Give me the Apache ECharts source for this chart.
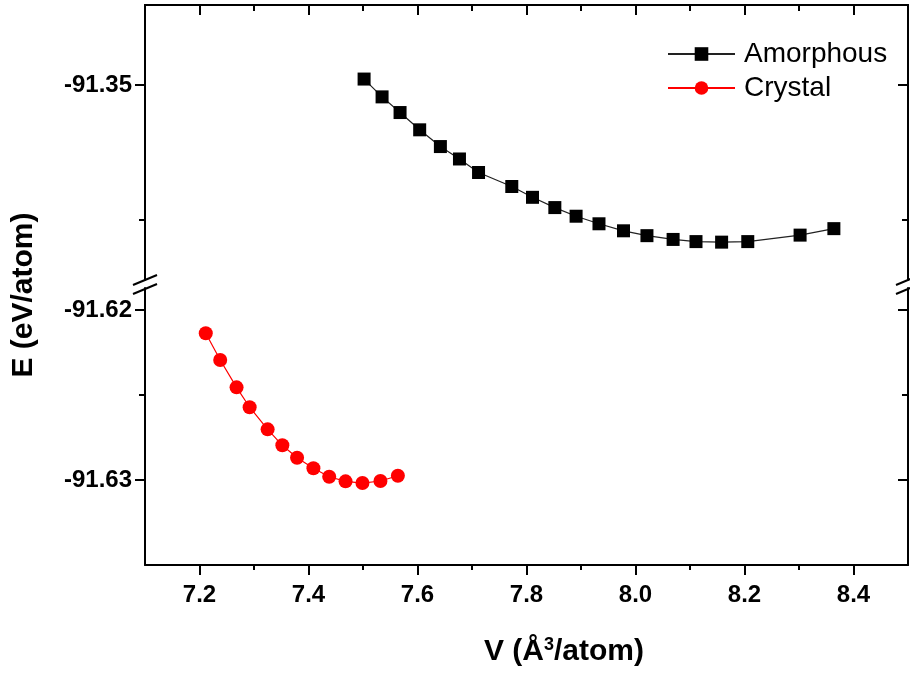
<!DOCTYPE html>
<html>
<head>
<meta charset="utf-8">
<title>E-V</title>
<style>
    html, body { margin: 0; padding: 0; background: #fff; }
    #main { width: 910px; height: 673px; }
</style>
<script src="https://cdn.jsdelivr.net/npm/echarts@6/dist/echarts.min.js"></script>
</head>
<body>
<div id="main"></div>
<script>
// 数据（从图上读出来的）
var amorphousV = [7.502, 7.535, 7.568, 7.604, 7.642, 7.677, 7.712, 7.773, 7.811, 7.852,
    7.891, 7.933, 7.978, 8.021, 8.069, 8.111, 8.158, 8.206, 8.302, 8.364];
var amorphousE = [-91.3489, -91.3522, -91.3551, -91.3583, -91.3614, -91.3637, -91.3662, -91.3688, -91.3708, -91.3727,
    -91.3743, -91.3757, -91.3770, -91.3779, -91.3786, -91.3790, -91.3791, -91.3790, -91.3778, -91.3766];

var crystalV = [7.2115, 7.238, 7.268, 7.292, 7.325, 7.352, 7.379, 7.409, 7.438, 7.468, 7.499, 7.532, 7.564];
var crystalE = [-91.62137, -91.62294, -91.62455, -91.62572, -91.62702, -91.62796, -91.62869,
    -91.62931, -91.62981, -91.63008, -91.63018, -91.63006, -91.62975];

// 刻度
var xMajor = [7.2, 7.4, 7.6, 7.8, 8.0, 8.2, 8.4];
var xMinor = [7.3, 7.5, 7.7, 7.9, 8.1, 8.3];
var yTopMajor = [-91.35];
var yTopMinor = [-91.375];
var yBotMajor = [-91.62, -91.63];
var yBotMinor = [-91.625];

(function() {
    var myChart = echarts.init(document.getElementById('main'));

    var FONT = "'Liberation Sans', Arial, Helvetica, sans-serif";
    var L = 145, R = 908;            // 左右边框
    var TOP = 5, BREAK1 = 280;       // 上半部分
    var BREAK2 = 288, BOTTOM = 565;  // 下半部分

    // 上半部分 y 范围: -91.35 在 y=85，5400 px/单位
    var topMax = -91.35 + (85 - TOP) / 5400;
    var topMin = -91.35 - (BREAK1 - 85) / 5400;
    // 下半部分: -91.62 在 y=310，17000 px/单位
    var botMax = -91.62 + (310 - BREAK2) / 17000;
    var botMin = -91.63 - (BOTTOM - 480) / 17000;

    function zip(xs, ys) {
        var out = [];
        for (var i = 0; i < xs.length; i++) out.push([xs[i], ys[i]]);
        return out;
    }

    function xAx(grid, pos, ticks, len, inside, labels) {
        return {
            type: 'value', gridIndex: grid, position: pos,
            min: 7.1, max: 8.5,
            axisLine: { show: !!labels || pos === 'top', onZero: false, lineStyle: { color: '#000', width: 2 } },
            axisTick: { show: true, inside: inside, length: len, customValues: ticks, lineStyle: { color: '#000', width: 2 } },
            axisLabel: labels ? {
                show: true, customValues: labels, margin: 18,
                color: '#000', fontSize: 24, fontWeight: 'bold', fontFamily: FONT,
                formatter: function(v) { return Number(v).toFixed(1); }
            } : { show: false },
            splitLine: { show: false }
        };
    }

    function yAx(grid, pos, mn, mx, ticks, len, inside, labels, line) {
        return {
            type: 'value', gridIndex: grid, position: pos,
            min: mn, max: mx, scale: true,
            axisLine: { show: line, onZero: false, lineStyle: { color: '#000', width: 2 } },
            axisTick: { show: true, inside: inside, length: len, customValues: ticks, lineStyle: { color: '#000', width: 2 } },
            axisLabel: labels ? {
                show: true, customValues: labels, margin: 13,
                color: '#000', fontSize: 24, fontWeight: 'bold', fontFamily: FONT,
                formatter: function(v) { return Number(v).toFixed(2); }
            } : { show: false },
            splitLine: { show: false }
        };
    }

    function brk(x, y) {
        return {
            type: 'line', z: 100,
            shape: { x1: x - 12, y1: y + 5, x2: x + 12, y2: y - 5 },
            style: { stroke: '#000', lineWidth: 2 }
        };
    }

    var option = {
        backgroundColor: '#fff',
        animation: false,
        grid: [
            { left: L, right: 910 - R, top: TOP, height: BREAK1 - TOP },
            { left: L, right: 910 - R, top: BREAK2, bottom: 673 - BOTTOM }
        ],
        xAxis: [
            xAx(0, 'top', xMajor, 10, true, null),
            xAx(0, 'top', xMinor, 6, true, null),
            xAx(1, 'bottom', xMajor, 10, false, xMajor),
            xAx(1, 'bottom', xMinor, 5, false, null)
        ],
        yAxis: [
            yAx(0, 'left', topMin, topMax, yTopMajor, 10, false, yTopMajor, true),
            yAx(0, 'left', topMin, topMax, yTopMinor, 6, false, null, false),
            yAx(0, 'right', topMin, topMax, yTopMajor, 10, true, null, true),
            yAx(0, 'right', topMin, topMax, yTopMinor, 6, true, null, false),
            yAx(1, 'left', botMin, botMax, yBotMajor, 10, false, yBotMajor, true),
            yAx(1, 'left', botMin, botMax, yBotMinor, 6, false, null, false),
            yAx(1, 'right', botMin, botMax, yBotMajor, 10, true, null, true),
            yAx(1, 'right', botMin, botMax, yBotMinor, 6, true, null, false)
        ],
        legend: {
            orient: 'vertical',
            left: 662, top: 35,
            itemWidth: 67, itemHeight: 17, itemGap: 6,
            textStyle: { fontSize: 28, color: '#000', fontFamily: FONT, padding: [0, 0, 0, 4] },
            data: ['Amorphous', 'Crystal']
        },
        series: [
            {
                name: 'Amorphous', type: 'line',
                xAxisIndex: 0, yAxisIndex: 0,
                data: zip(amorphousV, amorphousE),
                symbol: 'rect', symbolSize: 13,
                itemStyle: { color: '#000' },
                lineStyle: { color: '#222', width: 1.2 }
            },
            {
                name: 'Crystal', type: 'line',
                xAxisIndex: 2, yAxisIndex: 4,
                data: zip(crystalV, crystalE),
                symbol: 'circle', symbolSize: 14,
                itemStyle: { color: '#ff0000' },
                lineStyle: { color: '#ff0000', width: 1.2 }
            }
        ],
        graphic: [
            brk(L, BREAK1), brk(L, BREAK2 + 1),
            brk(R, BREAK1), brk(R, BREAK2 + 1),
            {
                type: 'text', x: 24, y: 295, rotation: Math.PI / 2,
                style: {
                    text: 'E (eV/atom)', fill: '#000',
                    fontSize: 30, fontWeight: 'bold', fontFamily: FONT,
                    align: 'center', verticalAlign: 'middle'
                }
            },
            {
                type: 'text', x: 564, y: 652,
                style: {
                    text: 'V (Å{sup|3}/atom)', fill: '#000',
                    fontSize: 30, fontWeight: 'bold', fontFamily: FONT,
                    align: 'center', verticalAlign: 'middle',
                    rich: {
                        sup: { fontSize: 18, fontWeight: 'bold', fontFamily: FONT, fill: '#000', verticalAlign: 'top', padding: [0, 0, 14, 0] }
                    }
                }
            }
        ]
    };

    myChart.setOption(option);
})();
</script>
</body>
</html>
